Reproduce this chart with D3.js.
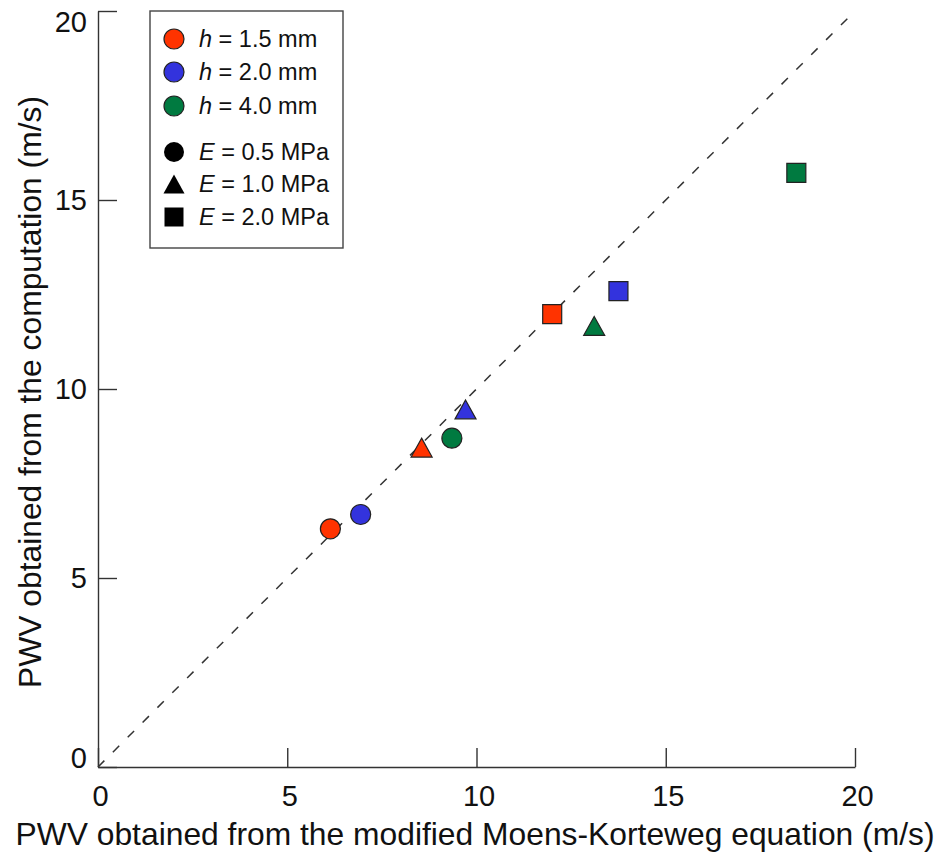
<!DOCTYPE html>
<html>
<head>
<meta charset="utf-8">
<script src="https://cdn.jsdelivr.net/npm/d3@7"></script>
<style>
  html, body { margin: 0; padding: 0; background: #fff; }
  svg { display: block; font-family: "Liberation Sans", Arial, Helvetica, sans-serif; }
</style>
</head>
<body>
<svg id="chart" width="942" height="855"></svg>
<script>
// ---- data ----
const thicknesses = ["1.5", "2.0", "4.0"];          // h (mm)
const moduli = ["0.5", "1.0", "2.0"];               // E (MPa)
const thicknessColors = ["#ff3300", "#3333dd", "#007a40"];
// PWV from modified Moens-Korteweg equation (x), rows = h, cols = E
const pwvMK = [
  [6.14, 8.55, 12.0],
  [6.94, 9.71, 13.75],
  [9.35, 13.11, 18.45]
];
// PWV from computation (y)
const pwvComp = [
  [6.30, 8.45, 11.98],
  [6.68, 9.46, 12.59],
  [8.70, 11.67, 15.72]
];
const xTicks = [0, 5, 10, 15, 20];
const yTicks = [0, 5, 10, 15, 20];
const xLabel = "PWV obtained from the modified Moens-Korteweg equation (m/s)";
const yLabel = "PWV obtained from the computation (m/s)";

// ---- layout ----
const svg = d3.select("#chart");
const x = d3.scaleLinear().domain([0, 20]).range([98, 855]);
const y = d3.scaleLinear().domain([0, 20]).range([767, 11]);
const axisColor = "#333";

// custom bbox-centred triangle
const triType = {
  draw(ctx, size) {
    const w = Math.sqrt(size);       // width
    const h = w * 0.9;
    ctx.moveTo(0, -h / 2);
    ctx.lineTo(w / 2, h / 2);
    ctx.lineTo(-w / 2, h / 2);
    ctx.closePath();
  }
};
const shapeTypes = [d3.symbolCircle, triType, d3.symbolSquare];
const shapeSizes = [Math.PI * 10 * 10, 21 * 21, 19 * 19];

// dashed identity line
svg.append("line")
  .attr("x1", x(0)).attr("y1", y(0))
  .attr("x2", x(20)).attr("y2", y(20))
  .attr("stroke", "#333").attr("stroke-width", 1.5)
  .attr("stroke-dasharray", "9,12");

// axes
const gx = svg.append("g").attr("transform", `translate(0,${y(0)})`)
  .call(d3.axisBottom(x).tickValues(xTicks).tickSizeInner(-19).tickSizeOuter(0).tickPadding(18).tickFormat(d3.format("d")));
const gy = svg.append("g").attr("transform", `translate(${x(0)},0)`)
  .call(d3.axisLeft(y).tickValues(yTicks).tickSizeInner(-19).tickSizeOuter(0).tickPadding(11).tickFormat(d3.format("d")));

[gx, gy].forEach(g => {
  g.select(".domain").attr("stroke", axisColor).attr("stroke-width", 1.4);
  g.selectAll(".tick line").attr("stroke", axisColor).attr("stroke-width", 1.4);
  g.selectAll(".tick text").attr("fill", "#111").style("font-size", "29px")
    .style("font-family", "'Liberation Sans', Arial, Helvetica, sans-serif");
});
gx.selectAll(".tick text").attr("dx", 2);
gy.selectAll(".tick text").attr("dy", d => d === 0 ? "0.0em" : (d === 20 ? "0.72em" : "0.34em"));

// axis titles
svg.append("text")
  .attr("x", 475).attr("y", 845)
  .attr("text-anchor", "middle")
  .style("font-size", "31.8px").attr("fill", "#111")
  .text(xLabel);
svg.append("text")
  .attr("transform", `translate(41,392) rotate(-90)`)
  .attr("text-anchor", "middle")
  .style("font-size", "31.8px").attr("fill", "#111")
  .text(yLabel);

// data points
const pts = [];
thicknesses.forEach((h, i) => moduli.forEach((e, j) => {
  pts.push({ i, j, xv: pwvMK[i][j], yv: pwvComp[i][j] });
}));
svg.append("g").selectAll("path").data(pts).join("path")
  .attr("transform", d => `translate(${x(d.xv)},${y(d.yv)})`)
  .attr("d", d => d3.symbol().type(shapeTypes[d.j]).size(shapeSizes[d.j])())
  .attr("fill", d => thicknessColors[d.i])
  .attr("stroke", "#222").attr("stroke-width", 1.2);

// legend
const lg = svg.append("g");
lg.append("rect").attr("x", 150).attr("y", 11).attr("width", 193).attr("height", 237)
  .attr("fill", "#fff").attr("stroke", "#444").attr("stroke-width", 1.4);
const rowsH = [39, 72, 106];
const rowsE = [152, 184, 217];
thicknesses.forEach((h, i) => {
  lg.append("path").attr("transform", `translate(174,${rowsH[i]})`)
    .attr("d", d3.symbol().type(d3.symbolCircle).size(Math.PI * 10 * 10)())
    .attr("fill", thicknessColors[i]).attr("stroke", "#222").attr("stroke-width", 1.2);
  const t = lg.append("text").attr("x", 199).attr("y", rowsH[i]).attr("dy", "0.35em")
    .style("font-size", "23.5px").attr("fill", "#111");
  t.append("tspan").style("font-style", "italic").text("h");
  t.append("tspan").text(` = ${h} mm`);
});
moduli.forEach((e, j) => {
  lg.append("path").attr("transform", `translate(174,${rowsE[j]})`)
    .attr("d", d3.symbol().type(shapeTypes[j]).size(shapeSizes[j])())
    .attr("fill", "#000");
  const t = lg.append("text").attr("x", 199).attr("y", rowsE[j]).attr("dy", "0.35em")
    .style("font-size", "23.5px").attr("fill", "#111");
  t.append("tspan").style("font-style", "italic").text("E");
  t.append("tspan").text(` = ${e} MPa`);
});
</script>
</body>
</html>
